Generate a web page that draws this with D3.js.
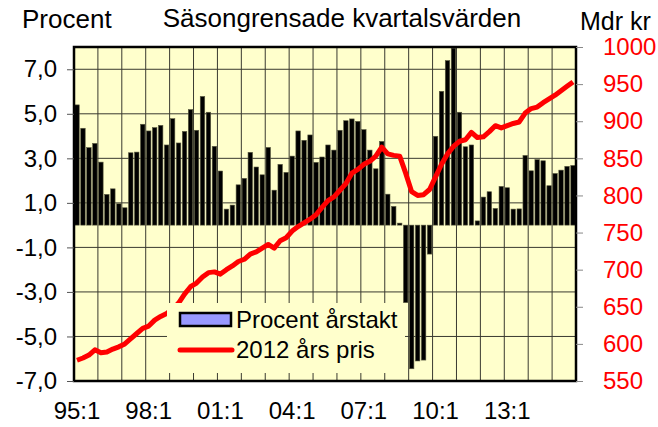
<!DOCTYPE html>
<html>
<head>
<meta charset="utf-8">
<script src="https://cdn.jsdelivr.net/npm/d3@7"></script>
<style>
    body { margin: 0; background: #fff; }
    text { font-family: "Liberation Sans", Arial, sans-serif; }
</style>
</head>
<body>
<script>
// size
var w = 658;
var h = 427;

// quarters 95:1 .. 15:4
var quarters = [];
for (var yr = 1995; yr <= 2015; yr++) {
    for (var q = 1; q <= 4; q++) {
        quarters.push(String(yr).slice(2) + ":" + q);
    }
}

// Procent årstakt (bars, left axis)
var growth = [
    5.4, 4.35, 3.48, 3.67, 2.83, 1.38, 1.63, 0.96, 0.78, 3.25,
    3.28, 4.53, 4.23, 4.38, 4.48, 3.6, 4.78, 3.69, 4.21, 5.19,
    4.26, 5.78, 5.07, 3.54, 2.43, 0.72, 0.9, 1.81, 2.1, 3.27,
    2.61, 2.26, 3.49, 1.57, 2.73, 2.37, 3.1, 4.23, 3.81, 4.05,
    2.82, 3.06, 3.6, 3.37, 4.26, 4.69, 4.77, 4.66, 4.29, 3.37,
    2.53, 3.76, 1.39, 0.84, 0.09, -3.48, -6.45, -6.1, -6.06, -1.3,
    3.99, 6.01, 7.39, 7.95, 5.07, 3.52, 3.6, 0.19, 1.26, 1.5,
    0.75, 1.74, 1.68, 0.72, 0.73, 3.13, 2.44, 2.94, 2.89, 1.77,
    2.32, 2.47, 2.64, 2.68
];

// 2012 års pris, Mdr kr (line, right axis)
var level = [
    578, 581, 585, 592, 588, 589, 593, 596, 600, 607,
    614, 621, 624, 632, 637, 641, 647, 655, 667, 677,
    682, 690, 696, 697, 694, 700, 705, 711, 714, 721,
    724, 729, 734, 729, 739, 743, 752, 758, 763, 768,
    774, 784, 793, 798, 807, 816, 830, 835, 842, 846,
    853, 865, 856, 854, 853, 830, 805, 800, 801, 808,
    825, 842, 856, 866, 873, 875, 885, 878, 879, 886,
    894, 891, 894, 897, 899, 911, 917, 919, 925, 930,
    935, 941, 947, 953
];

var leftTicks = [-7, -5, -3, -1, 1, 3, 5, 7];
var rightTicks = [550, 600, 650, 700, 750, 800, 850, 900, 950, 1000];
var xLabels = ["95:1", "98:1", "01:1", "04:1", "07:1", "10:1", "13:1"];

// plot area
var pLeft = 74, pRight = 576, pTop = 47, pBottom = 381;

var svg = d3.select("body").append("svg")
    .attr("width", w)
    .attr("height", h);

var x = d3.scaleBand()
    .domain(quarters)
    .range([pLeft, pRight])
    .paddingInner(0.25)
    .paddingOuter(0.125);

var y = d3.scaleLinear()
    .domain([-7, 8])
    .range([pBottom, pTop]);

var y2 = d3.scaleLinear()
    .domain([550, 1000])
    .range([pBottom, pTop]);

// plot background
svg.append("rect")
    .attr("x", pLeft)
    .attr("y", pTop)
    .attr("width", pRight - pLeft)
    .attr("height", pBottom - pTop)
    .style("fill", "#ffffcc");

// gridlines
var grid = svg.append("g").attr("class", "grid");
grid.selectAll(".hgrid")
    .data(leftTicks)
    .enter().append("line")
    .attr("x1", pLeft)
    .attr("x2", pRight)
    .attr("y1", d => y(d))
    .attr("y2", d => y(d))
    .style("stroke", "#3a3a30")
    .style("stroke-width", 1);

// year boundaries
var yearStarts = quarters.filter((d, i) => i > 0 && i % 4 == 0);
grid.selectAll(".vgrid")
    .data(yearStarts)
    .enter().append("line")
    .attr("x1", d => x(d) - x.step() * x.paddingInner() / 2)
    .attr("x2", d => x(d) - x.step() * x.paddingInner() / 2)
    .attr("y1", pTop)
    .attr("y2", pBottom)
    .style("stroke", "#3a3a30")
    .style("stroke-width", 1);

// bars
svg.append("g").selectAll(".bar")
    .data(growth)
    .enter().append("rect")
    .attr("class", "bar")
    .attr("x", (d, i) => x(quarters[i]))
    .attr("y", d => y(Math.max(0, d)))
    .attr("width", x.bandwidth())
    .attr("height", d => Math.abs(y(d) - y(0)))
    .style("fill", "#000")
    .style("stroke", "#5a5a40")
    .style("stroke-width", 0.6);

// line
var line = d3.line()
    .x((d, i) => x(quarters[i]) + x.bandwidth() / 2)
    .y(d => y2(d));

svg.append("path")
    .datum(level)
    .attr("d", line)
    .style("fill", "none")
    .style("stroke", "#ff0000")
    .style("stroke-width", 5)
    .style("stroke-linejoin", "round");

// frame
svg.append("rect")
    .attr("x", pLeft)
    .attr("y", pTop)
    .attr("width", pRight - pLeft)
    .attr("height", pBottom - pTop)
    .style("fill", "none")
    .style("stroke", "#000")
    .style("stroke-width", 2.5);

// Axes
var fmt = d => (d < 0 ? "-" : "") + Math.abs(d).toFixed(1).replace(".", ",");

var gLeft = svg.append("g")
    .attr("transform", "translate(" + pLeft + ",0)")
    .call(d3.axisLeft(y).tickValues(leftTicks).tickFormat(fmt).tickSize(7).tickPadding(10));

var gRight = svg.append("g")
    .attr("transform", "translate(" + pRight + ",0)")
    .call(d3.axisRight(y2).tickValues(rightTicks).tickFormat(d3.format("d")).tickSize(7).tickPadding(20));

var gBottom = svg.append("g")
    .attr("transform", "translate(0," + pBottom + ")")
    .call(d3.axisBottom(x).tickValues(xLabels).tickSize(0).tickPadding(21));

[gLeft, gRight, gBottom].forEach(g => {
    g.select(".domain").remove();
    g.selectAll("text")
        .style("font-family", "'Liberation Sans', Arial, sans-serif")
        .style("font-size", "24px");
});
gLeft.selectAll("line").style("stroke", "#555");
gLeft.selectAll("text").style("fill", "#000");
gRight.selectAll("line").style("stroke", "#888");
gRight.selectAll("text").style("fill", "#ff0000");
gBottom.selectAll("text").style("fill", "#000");

// titles
svg.append("text")
    .attr("x", 22)
    .attr("y", 28)
    .attr("font-size", "26px")
    .text("Procent");

svg.append("text")
    .attr("x", 342)
    .attr("y", 27)
    .attr("text-anchor", "middle")
    .attr("font-size", "26px")
    .text("Säsongrensade kvartalsvärden");

svg.append("text")
    .attr("x", 580)
    .attr("y", 30)
    .attr("font-size", "25px")
    .text("Mdr kr");

// Legend
var legend = svg.append("g").attr("id", "legend");
legend.append("rect")
    .attr("x", 167)
    .attr("y", 303)
    .attr("width", 238)
    .attr("height", 70)
    .style("fill", "#ffffcc");
legend.append("rect")
    .attr("x", 180)
    .attr("y", 313)
    .attr("width", 51)
    .attr("height", 13)
    .style("fill", "#9999ff")
    .style("stroke", "#000")
    .style("stroke-width", 2.5);
legend.append("text")
    .attr("x", 236)
    .attr("y", 328)
    .attr("font-size", "24px")
    .text("Procent årstakt");
legend.append("line")
    .attr("x1", 180)
    .attr("x2", 232)
    .attr("y1", 350)
    .attr("y2", 350)
    .style("stroke", "#ff0000")
    .style("stroke-width", 5)
    .style("stroke-linecap", "round");
legend.append("text")
    .attr("x", 236)
    .attr("y", 358)
    .attr("font-size", "24px")
    .text("2012 års pris");
</script>
</body>
</html>
